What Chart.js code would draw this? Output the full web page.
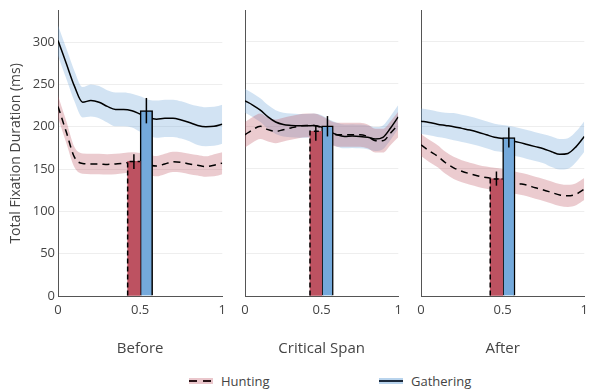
<!DOCTYPE html>
<html>
<head>
<meta charset="utf-8">
<script src="https://cdn.jsdelivr.net/npm/chart.js@4.4.1/dist/chart.umd.min.js"></script>
<style>
  body { margin: 0; background: #fff; font-family: "Open Sans", sans-serif; }
  #wrap { position: relative; width: 590px; height: 392px; overflow: hidden; }
  .panel { position: absolute; top: 0; }
  .legend-item { position: absolute; top: 372px; height: 18px; display: flex; align-items: center; font-size: 13px; color: #444; }
  .swatch { width: 24px; height: 6px; margin-right: 8px; position: relative; }
  .swatch span { position: absolute; left: 0; right: 0; top: 2px; height: 2px; }
</style>
</head>
<body>
<div id="wrap">
  <canvas id="p0" class="panel" width="232" height="372" style="left:0px"></canvas>
  <canvas id="p1" class="panel" width="178" height="372" style="left:230px"></canvas>
  <canvas id="p2" class="panel" width="189" height="372" style="left:405px"></canvas>
  <div class="legend-item" style="left:189px">
    <div class="swatch" style="background:rgba(189,82,97,0.32)"><span style="background:repeating-linear-gradient(90deg,#2a1418 0 8px,transparent 8px 14px)"></span></div>Hunting
  </div>
  <div class="legend-item" style="left:379px">
    <div class="swatch" style="background:rgba(116,169,219,0.5)"><span style="background:#1c2a3c"></span></div>Gathering
  </div>
</div>
<script>
  const panelTitles = ["Before", "Critical Span", "After"];
  const xs = [0, 0.05, 0.1, 0.15, 0.2, 0.25, 0.3, 0.35, 0.4, 0.45, 0.5, 0.55, 0.6, 0.65, 0.7, 0.75, 0.8, 0.85, 0.9, 0.95, 1];
  const yTicks = [0, 50, 100, 150, 200, 250, 300];
  const xTicks = [0, 0.5, 1];

  // smoothed fixation durations (ms) across the region
  const gatherBefore = [302, 275, 248, 229, 231, 229, 224, 220.5, 220.5, 219, 215, 211, 209, 210, 210, 208, 205, 201.5, 200, 200.5, 203];
  const huntBefore   = [224, 194, 164, 156.5, 156, 156, 155.5, 156, 157, 158, 157, 155, 153.5, 156, 158.5, 158, 156, 154.5, 153, 154.5, 157];
  const gatherCritical = [230, 225, 219, 211, 205, 202, 201, 200.5, 200.5, 201, 199, 194, 190, 188, 188.5, 188, 187, 185, 187, 198, 211];
  const huntCritical   = [190, 196, 200, 196, 194, 196, 198, 200, 201, 201, 198, 193, 190, 190, 190, 190, 188, 183, 183, 192, 202];
  const gatherAfter = [206, 204.5, 202.5, 201, 199.5, 197.5, 195.5, 193, 190, 187, 185.5, 183, 181, 178.5, 176, 173.5, 170, 167, 168, 176, 188];
  const huntAfter   = [178, 171, 165, 157, 151, 147, 144, 141.5, 139.5, 138, 136.5, 134.5, 132.5, 130.5, 127.5, 125, 122, 119, 118, 120, 126];

  // half width of the shaded ribbons
  const gatherCiBefore = [18, 18, 18, 18, 19, 19, 19, 20, 20, 20, 21, 21, 22, 22, 22, 22, 22, 23, 23, 23, 23];
  const huntCiBefore   = [13, 13, 12, 12, 12, 12, 12, 12, 12, 12, 12, 12, 12, 12, 12, 12, 12, 12, 12, 13, 13];
  const gatherCiCritical = [14, 14, 14, 14, 14, 14, 14, 14, 14, 14, 14, 14, 14, 14, 14, 14, 14, 14, 14, 14, 14];
  const huntCiCritical   = [15, 15, 15, 14, 14, 14, 14, 14, 14, 14, 14, 14, 14, 14, 14, 14, 14, 14, 14, 14, 15];
  const gatherCiAfter = [15, 15, 15, 15, 16, 16, 16, 16, 16, 16, 16, 17, 17, 17, 17, 17, 18, 18, 18, 18, 18];
  const huntCiAfter   = [13, 13, 13, 13, 13, 13, 13, 13, 13, 13, 13, 13, 13, 13, 13, 13, 13, 13, 13, 13, 13];

  // bar means and error bars
  const barX = [0.462, 0.538];
  const huntBar = [159, 194, 138];
  const gatherBar = [219, 200.5, 186.7];
  const huntErrLo = [150, 183, 130];
  const huntErrHi = [167.5, 200.5, 146.7];
  const gatherErrLo = [204, 188, 175];
  const gatherErrHi = [234, 212, 198.5];

  const gatherSeries = [gatherBefore, gatherCritical, gatherAfter];
  const huntSeries = [huntBefore, huntCritical, huntAfter];
  const gatherCis = [gatherCiBefore, gatherCiCritical, gatherCiAfter];
  const huntCis = [huntCiBefore, huntCiCritical, huntCiAfter];

  const blueFill = "rgba(116,169,219,0.32)";
  const redFill = "rgba(189,82,97,0.3)";
  const textColor = "#444";

  function pts(vals, ci, sign) {
    return xs.map((x, i) => ({ x: x, y: vals[i] + sign * (ci ? ci[i] : 0) }));
  }

  // dashed outline on the hunting bar, and the error bars
  const barExtras = {
    id: "barExtras",
    afterDatasetsDraw(chart) {
      const ctx = chart.ctx;
      const y = chart.scales.y;
      const p = chart.options.panelIndex;
      const hunt = chart.getDatasetMeta(6).data[0];
      const gather = chart.getDatasetMeta(7).data[0];
      ctx.save();
      ctx.strokeStyle = "#000";
      ctx.lineWidth = 1.5;
      ctx.setLineDash([5, 3]);
      const l = hunt.x - hunt.width / 2, r = hunt.x + hunt.width / 2;
      ctx.beginPath();
      ctx.moveTo(l, hunt.base);
      ctx.lineTo(l, hunt.y);
      ctx.lineTo(r, hunt.y);
      ctx.stroke();
      ctx.setLineDash([]);
      [[hunt, huntErrLo, huntErrHi], [gather, gatherErrLo, gatherErrHi]].forEach(([el, lo, hi]) => {
        ctx.beginPath();
        ctx.moveTo(el.x, y.getPixelForValue(lo[p]));
        ctx.lineTo(el.x, y.getPixelForValue(hi[p]));
        ctx.stroke();
      });
      ctx.restore();
    }
  };

  const layouts = [
    { yWidth: 58, padRight: 6 },
    { yWidth: 15, padRight: 4 },
    { yWidth: 16, padRight: 0 }
  ];

  panelTitles.forEach((title, p) => {
    const g = gatherSeries[p], h = huntSeries[p];
    const lay = layouts[p];
    const datasets = [
      { type: "line", data: pts(g, gatherCis[p], -1), borderWidth: 0, pointRadius: 0, fill: false, order: 3, cubicInterpolationMode: "monotone" },
      { type: "line", data: pts(g, gatherCis[p], 1), borderWidth: 0, pointRadius: 0, fill: "-1", backgroundColor: blueFill, order: 3, cubicInterpolationMode: "monotone" },
      { type: "line", data: pts(h, huntCis[p], -1), borderWidth: 0, pointRadius: 0, fill: false, order: 2, cubicInterpolationMode: "monotone" },
      { type: "line", data: pts(h, huntCis[p], 1), borderWidth: 0, pointRadius: 0, fill: "-1", backgroundColor: redFill, order: 2, cubicInterpolationMode: "monotone" },
      { type: "line", label: "Gathering", data: pts(g, null, 0), borderColor: "#000", borderWidth: 1.5, pointRadius: 0, fill: false, order: 1, cubicInterpolationMode: "monotone" },
      { type: "line", label: "Hunting", data: pts(h, null, 0), borderColor: "#000", borderWidth: 1.5, borderDash: [7, 5], pointRadius: 0, fill: false, order: 1, cubicInterpolationMode: "monotone" },
      { type: "bar", data: [{ x: barX[0], y: huntBar[p] }], backgroundColor: "#bd5261", borderWidth: 0, barPercentage: 1, categoryPercentage: 1, grouped: false, order: 0 },
      { type: "bar", data: [{ x: barX[1], y: gatherBar[p] }], backgroundColor: "#74a9db", borderColor: "#000", borderWidth: 1.5, barPercentage: 1, categoryPercentage: 1, grouped: false, order: 0 }
    ];

    new Chart(document.getElementById("p" + p), {
      type: "line",
      data: { datasets: datasets },
      plugins: [barExtras],
      options: {
        panelIndex: p,
        responsive: false,
        animation: false,
        layout: { padding: { top: 10, right: lay.padRight, left: 0, bottom: 0 } },
        plugins: { legend: { display: false }, tooltip: { enabled: false } },
        scales: {
          x: {
            type: "linear",
            min: 0,
            max: 1,
            offset: false,
            afterBuildTicks: s => { s.ticks = xTicks.map(v => ({ value: v })); },
            afterFit: s => { s.height = 76; },
            grid: { display: false, offset: false, drawTicks: false },
            border: { color: "#555", width: 1 },
            ticks: { color: textColor, font: { family: "Open Sans", size: 13 }, padding: 6, maxRotation: 0, callback: v => String(v) },
            title: { display: true, text: title, color: textColor, font: { family: "Open Sans", size: 15 }, padding: { bottom: 14 } }
          },
          y: {
            type: "linear",
            min: 0,
            max: 337,
            afterBuildTicks: s => { s.ticks = yTicks.map(v => ({ value: v })); },
            afterFit: s => { s.width = lay.yWidth; },
            grid: { color: "#eeeeee", drawTicks: false },
            border: { color: "#555", width: 1 },
            ticks: { display: p === 0, color: textColor, font: { family: "Open Sans", size: 13 }, padding: 3 },
            title: { display: p === 0, text: "Total Fixation Duration (ms)", color: textColor, font: { family: "Open Sans", size: 14 }, padding: { top: 8 } }
          }
        }
      }
    });
  });
</script>
</body>
</html>
